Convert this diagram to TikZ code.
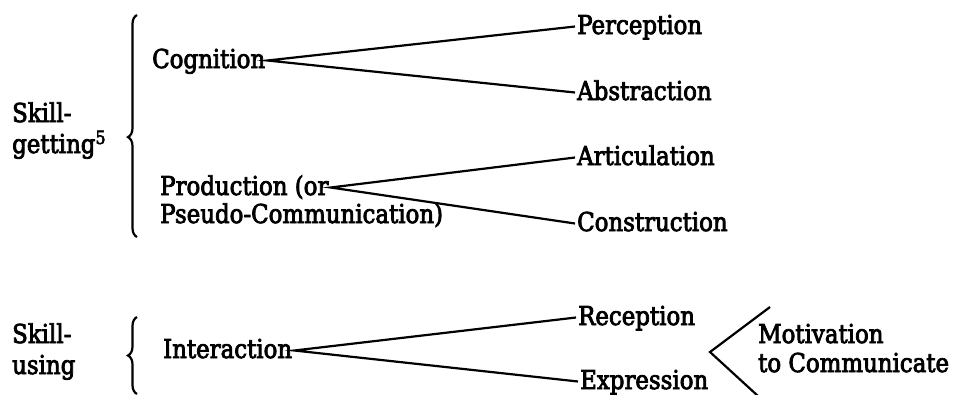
\documentclass[tikz,border=0pt]{standalone}
\usepackage{fontspec}
\setmainfont{DejaVu Serif}[FakeStretch=0.88, FakeBold=3]
\usetikzlibrary{decorations.pathreplacing}

\begin{document}
\begin{tikzpicture}[x=1pt, y=-1pt,
        term/.style={anchor=base west, inner sep=2pt, font=\fontsize{26}{30}\selectfont, text height=15pt, text depth=0pt},
        edge/.style={line width=2.2pt},
        curly/.style={decorate, decoration={brace, amplitude=9pt, aspect=#1}, line width=2.2pt}
    ]
    \useasboundingbox (0,0) rectangle (967,394);

    % skill-getting
    \node[term] (sg1) at (10,122) {Skill-};
    \node[term] (sg2) at (10,153) {getting\textsuperscript{5}};
    \draw[curly=0.45] (137,237) -- (137,15);

    \node[term] (cog) at (150,68) {Cognition};
    \node[term] (perc) at (575,34) {Perception};
    \node[term] (abst) at (575,100) {Abstraction};

    \node[term] (prod) at (158,195) {Production (or};
    \node[term] (pseudo) at (158,223) {Pseudo-Communication)};
    \node[term] (artic) at (575,165) {Articulation};
    \node[term] (constr) at (575,231) {Construction};

    \draw[edge] (perc.west) -- (cog.east) -- (abst.west);
    \draw[edge] (artic.west) -- (prod.east) -- (constr.west);

    % skill-using
    \node[term] (su1) at (10,343) {Skill-};
    \node[term] (su2) at (10,374) {using};
    \draw[curly=0.5] (137,394) -- (137,317);

    \node[term] (inter) at (161,358) {Interaction};
    \node[term] (recep) at (576,325) {Reception};
    \node[term] (expr) at (578,389) {Expression};
    \draw[edge] (recep.west) -- (inter.east) -- (expr.west);

    \node[term] (motiv) at (756,343) {Motivation};
    \node[term] (comm) at (756,372) {to Communicate};
    \coordinate (mtop) at (770,307);
    \coordinate (mtip) at (710,352);
    \coordinate (mbot) at (758,396);
    \draw[edge] (mtop) -- (mtip) -- (mbot);
\end{tikzpicture}
\end{document}
